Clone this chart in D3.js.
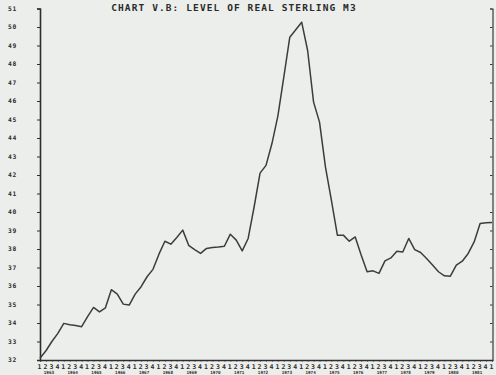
<!DOCTYPE html>
<html><head><meta charset="utf-8">
<script src="https://cdn.jsdelivr.net/npm/d3@7"></script>
<style>
html,body{margin:0;padding:0;background:#eceeec;}
svg{display:block;}
text{font-family:"DejaVu Sans Mono",monospace;fill:#2a2a2a;}
</style></head>
<body>
<script>
const title = "CHART V.B: LEVEL OF REAL STERLING M3";
const years = ["1963","1964","1965","1966","1967","1968","1969","1970","1971","1972","1973","1974","1975","1976","1977","1978","1979","1980","1981"];
const quarters = ["1","2","3","4"];
const yTicks = [32,33,34,35,36,37,38,39,40,41,42,43,44,45,46,47,48,49,50,51];
// quarterly values, 1963 Q1 .. 1982 Q1
const m3 = [32.09,32.5,33.0,33.44,33.98,33.9,33.87,33.8,34.34,34.84,34.6,34.82,35.8,35.56,35.02,34.97,
  35.56,35.96,36.5,36.9,37.72,38.42,38.26,38.62,39.02,38.2,37.97,37.76,38.03,38.08,38.11,38.15,
  38.8,38.48,37.9,38.57,40.27,42.1,42.52,43.7,45.2,47.3,49.45,49.85,50.26,48.73,45.94,44.86,
  42.43,40.63,38.75,38.75,38.42,38.65,37.67,36.77,36.82,36.68,37.36,37.52,37.88,37.84,38.57,
  37.97,37.81,37.49,37.13,36.77,36.55,36.53,37.13,37.34,37.76,38.38,39.38,39.42,39.43];

const W = 496, H = 375;
const svg = d3.select("body").append("svg").attr("width", W).attr("height", H);
svg.append("rect").attr("width", W).attr("height", H).attr("fill", "#eceeec");

const x = d3.scaleLinear().domain([0, m3.length - 1]).range([40, 492]);
const y = d3.scaleLinear().domain([32, 51]).range([360, 8.5]);

// title
svg.append("text").attr("x", 234).attr("y", 10.5).attr("text-anchor", "middle")
  .style("font-size", "9.5px").style("font-weight", "bold").style("letter-spacing", "1.1px").text(title);

// left axis
const la = svg.append("g").attr("transform", "translate(40,0)")
  .call(d3.axisLeft(y).tickValues(yTicks).tickSize(3).tickFormat(""));
la.select(".domain").attr("stroke", "#2e2e2e").attr("stroke-width", 1.6);
la.selectAll(".tick line").attr("stroke", "#2e2e2e").attr("stroke-width", 1);
svg.append("g").selectAll("text").data(yTicks).join("text")
  .attr("x", 12.5).attr("y", d => y(d) + 2).attr("text-anchor", "middle")
  .style("font-size", "6.3px").style("font-weight", "bold").style("letter-spacing", "0.8px")
  .text(d => d);

// right axis
const ra = svg.append("g").attr("transform", "translate(492.5,0)")
  .call(d3.axisLeft(y).tickValues(yTicks).tickSize(2.5).tickFormat(""));
ra.select(".domain").attr("stroke", "#3a3a3a").attr("stroke-width", 1.2);
ra.selectAll(".tick line").attr("stroke", "#3a3a3a");

// bottom axis
const idx = d3.range(m3.length);
const ba = svg.append("g").attr("transform", "translate(0,360)")
  .call(d3.axisBottom(x).tickValues(idx).tickSize(1.5).tickFormat(""));
ba.select(".domain").attr("stroke", "#2e2e2e").attr("stroke-width", 1.4);
ba.selectAll(".tick line").attr("stroke", "#2e2e2e");
svg.append("g").selectAll("text").data(idx).join("text")
  .attr("x", d => x(d) - 0.5).attr("y", 368.5).attr("text-anchor", "middle")
  .style("font-size", "6.5px").style("font-weight", "bold")
  .text(d => quarters[d % 4]);
svg.append("g").selectAll("text").data(years).join("text")
  .attr("x", (d, i) => (x(i * 4) + x(i * 4 + 3)) / 2).attr("y", 373.5).attr("text-anchor", "middle")
  .style("font-size", "4.3px").style("font-weight", "bold")
  .text(d => d);

// line
const line = d3.line().x((d, i) => x(i)).y(d => y(d));
svg.append("path").datum(m3).attr("d", line)
  .attr("fill", "none").attr("stroke", "#3c3c3c").attr("stroke-width", 1.5)
  .attr("stroke-linejoin", "round");
</script>
</body></html>
